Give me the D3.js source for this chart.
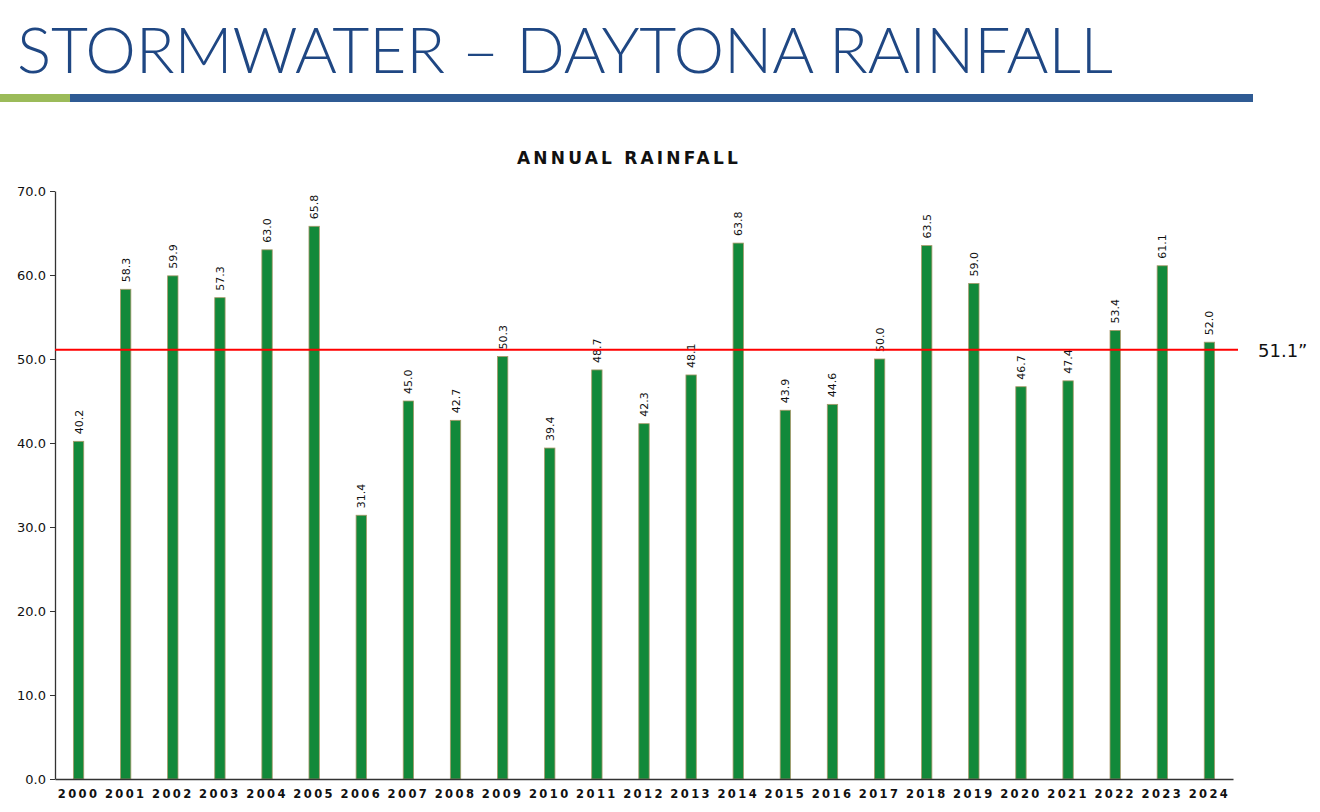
<!DOCTYPE html>
<html>
<head>
<meta charset="utf-8">
<script src="https://cdn.jsdelivr.net/npm/d3@7"></script>
<style>
  body { margin: 0; background: #fff; }
  svg { display: block; }
</style>
</head>
<body>
<div id="chart"></div>
<script>
// Data
const years = ["2000","2001","2002","2003","2004","2005","2006","2007","2008","2009","2010","2011","2012",
               "2013","2014","2015","2016","2017","2018","2019","2020","2021","2022","2023","2024"];
const rainfall = [40.2, 58.3, 59.9, 57.3, 63.0, 65.8, 31.4, 45.0, 42.7, 50.3, 39.4, 48.7, 42.3,
                  48.1, 63.8, 43.9, 44.6, 50.0, 63.5, 59.0, 46.7, 47.4, 53.4, 61.1, 52.0];
const average = 51.1;
const yTicks = [0, 10, 20, 30, 40, 50, 60, 70];

const width = 1320, height = 812;
const margin = { left: 55, right: 87, top: 191, bottom: 33 };

const svg = d3.select("#chart").append("svg")
    .attr("width", width)
    .attr("height", height);

// Page title
svg.append("text")
    .attr("x", 17)
    .attr("y", 73)
    .attr("textLength", 1096)
    .attr("lengthAdjust", "spacing")
    .style("font-family", "Lato, 'DejaVu Sans', sans-serif")
    .style("font-weight", 300)
    .style("font-size", "64px")
    .style("fill", "#1f4783")
    .text("STORMWATER – DAYTONA RAINFALL");

// Header rule
svg.append("rect").attr("x", 0).attr("y", 94).attr("width", 70).attr("height", 8).attr("fill", "#9bbb59");
svg.append("rect").attr("x", 70).attr("y", 94).attr("width", 1183).attr("height", 8).attr("fill", "#2f5b94");

// Chart title
svg.append("text")
    .attr("x", 629)
    .attr("y", 164)
    .attr("text-anchor", "middle")
    .style("font-family", "'DejaVu Sans', sans-serif")
    .style("font-weight", "bold")
    .style("font-size", "17px")
    .style("letter-spacing", "3.2px")
    .style("fill", "#111")
    .text("ANNUAL RAINFALL");

// Scales
const x = d3.scaleBand()
    .domain(years)
    .range([margin.left, 1233])
    .paddingInner(0.78)
    .paddingOuter(0.39);

const y = d3.scaleLinear()
    .domain([0, 70])
    .range([779, margin.top]);

// Bars
svg.selectAll(".bar")
    .data(rainfall)
    .enter().append("rect")
    .attr("class", "bar")
    .attr("x", (d, i) => x(years[i]))
    .attr("y", d => y(d))
    .attr("width", x.bandwidth())
    .attr("height", d => y(0) - y(d))
    .attr("fill", "#12893a")
    .attr("stroke", "#a9996a")
    .attr("stroke-width", 0.8);

// Value labels (rotated)
svg.selectAll(".val")
    .data(rainfall)
    .enter().append("text")
    .attr("class", "val")
    .attr("transform", (d, i) => "translate(" + (x(years[i]) + x.bandwidth() / 2 + 4) + "," + (y(d) - 7) + ") rotate(-90)")
    .style("font-family", "'DejaVu Sans', sans-serif")
    .style("font-size", "11px")
    .style("fill", "#111")
    .text(d => d.toFixed(1));

// Y axis
const yAxis = svg.append("g")
    .attr("transform", "translate(" + margin.left + ",0)")
    .call(d3.axisLeft(y).tickValues(yTicks).tickFormat(d => d.toFixed(1)).tickSize(5).tickSizeOuter(0));
yAxis.select(".domain").attr("stroke", "#333").attr("stroke-width", 1.3);
yAxis.selectAll(".tick line").attr("stroke", "#333");
yAxis.selectAll(".tick text")
    .attr("x", -9)
    .style("font-family", "'DejaVu Sans', sans-serif")
    .style("font-size", "13px")
    .style("fill", "#111");

// X axis
const xAxis = svg.append("g")
    .attr("transform", "translate(0," + y(0) + ")")
    .call(d3.axisBottom(x).tickSize(0).tickSizeOuter(0));
xAxis.select(".domain").attr("stroke", "#333").attr("stroke-width", 1.3);
xAxis.selectAll(".tick text")
    .attr("y", 11)
    .style("font-family", "'DejaVu Sans', sans-serif")
    .style("font-weight", 600)
    .style("font-size", "11.5px")
    .style("letter-spacing", "2.4px")
    .style("fill", "#111");

// Average line
svg.append("line")
    .attr("x1", margin.left)
    .attr("x2", 1238)
    .attr("y1", y(average))
    .attr("y2", y(average))
    .attr("stroke", "#ff0000")
    .attr("stroke-width", 2.2);

svg.append("text")
    .attr("x", 1258)
    .attr("y", y(average) + 7)
    .style("font-family", "'DejaVu Sans', sans-serif")
    .style("font-size", "18px")
    .style("fill", "#111")
    .text(average.toFixed(1) + "”");
</script>
</body>
</html>
